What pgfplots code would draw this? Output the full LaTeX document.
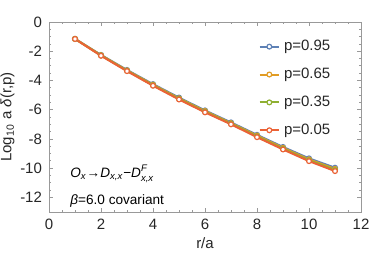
\documentclass[border=0pt]{standalone}
\usepackage{amsmath}
\usepackage{fontspec}
\setmainfont{Liberation Sans}
\usepackage{pgfplots}
\usepackage{pgfplotstable}
\pgfplotsset{compat=1.18}
\definecolor{c1}{rgb}{0.368,0.507,0.710}
\definecolor{c2}{rgb}{0.881,0.611,0.142}
\definecolor{c3}{rgb}{0.560,0.692,0.195}
\definecolor{c4}{rgb}{0.922,0.386,0.210}
\definecolor{framec}{gray}{0.6}
\definecolor{textc}{gray}{0.15}
\pgfplotstableread{
r p95 p65 p35 p05
1 -1.15 -1.15 -1.16 -1.16
2 -2.25 -2.27 -2.29 -2.31
3 -3.28 -3.31 -3.34 -3.36
4 -4.25 -4.29 -4.33 -4.36
5 -5.17 -5.22 -5.26 -5.30
6 -6.05 -6.09 -6.14 -6.18
7 -6.87 -6.92 -6.96 -7.00
8 -7.72 -7.77 -7.83 -7.88
9 -8.55 -8.61 -8.67 -8.72
10 -9.33 -9.40 -9.46 -9.52
11 -9.97 -10.05 -10.13 -10.20
}\datatable
\begin{document}
\begin{tikzpicture}
\begin{axis}[
  width=156pt, height=95pt, scale only axis,
  xmin=0, xmax=12, ymin=-13, ymax=0,
  xtick={0,2,...,12}, ytick={0,-2,...,-12},
  minor x tick num=3, minor y tick num=3,
  tick align=inside,
  major tick length=2.2pt, minor tick length=1.2pt,
  axis line style={framec, line width=0.4pt},
  every tick/.style={framec, line width=0.4pt},
  tick label style={font=\fontsize{7.5}{9}\selectfont, text=textc},
  /pgf/number format/assume math mode=true,
  label style={font=\fontsize{7.5}{9}\selectfont, text=textc},
  xlabel={r/a}, ylabel={Log\textsubscript{10} a \textit{δ}(r,p)},
  xlabel style={yshift=3pt},
  ylabel style={yshift=-4pt},
  legend style={draw=none, fill=none, at={(0.935,0.95)}, anchor=north east,
    font=\fontsize{7.5}{9}\selectfont, text=textc, row sep=3.2pt,
    legend cell align=left},
  legend image code/.code={\draw[mark repeat=2,mark phase=2] plot coordinates {(0cm,0cm)(0.17cm,0cm)(0.34cm,0cm)};},
  every axis plot/.append style={line width=1pt, mark=o, mark size=1.2pt,
    mark options={fill=white, line width=0.6pt, solid}},
]
\addplot[c1, mark=*] table[x=r,y=p95] {\datatable};
\addlegendentry{p=0.95}
\addplot[c2, mark=*] table[x=r,y=p65] {\datatable};
\addlegendentry{p=0.65}
\addplot[c3, mark=*] table[x=r,y=p35] {\datatable};
\addlegendentry{p=0.35}
\addplot[c4, mark=*] table[x=r,y=p05] {\datatable};
\addlegendentry{p=0.05}
\node[anchor=west, font=\fontsize{6.8}{8}\selectfont, text=black] at (axis cs:0.55,-10.4)
  {\textit{O}$_{\textit{x}}$→\textit{D}$_{\textit{x,x}}$−\textit{D}$^{\textit{F}}_{\textit{x,x}}$};
\node[anchor=west, font=\fontsize{6.8}{8}\selectfont, text=black] at (axis cs:0.55,-12.25)
  {\textit{β}=6.0 covariant};
\coordinate (sw) at (rel axis cs:0,0);
\coordinate (ne) at (rel axis cs:1,1);
\end{axis}
\pgfresetboundingbox
\path ([xshift=-24.5pt,yshift=-20.5pt]sw) rectangle ([xshift=10.5pt,yshift=11pt]ne);
\end{tikzpicture}
\end{document}
